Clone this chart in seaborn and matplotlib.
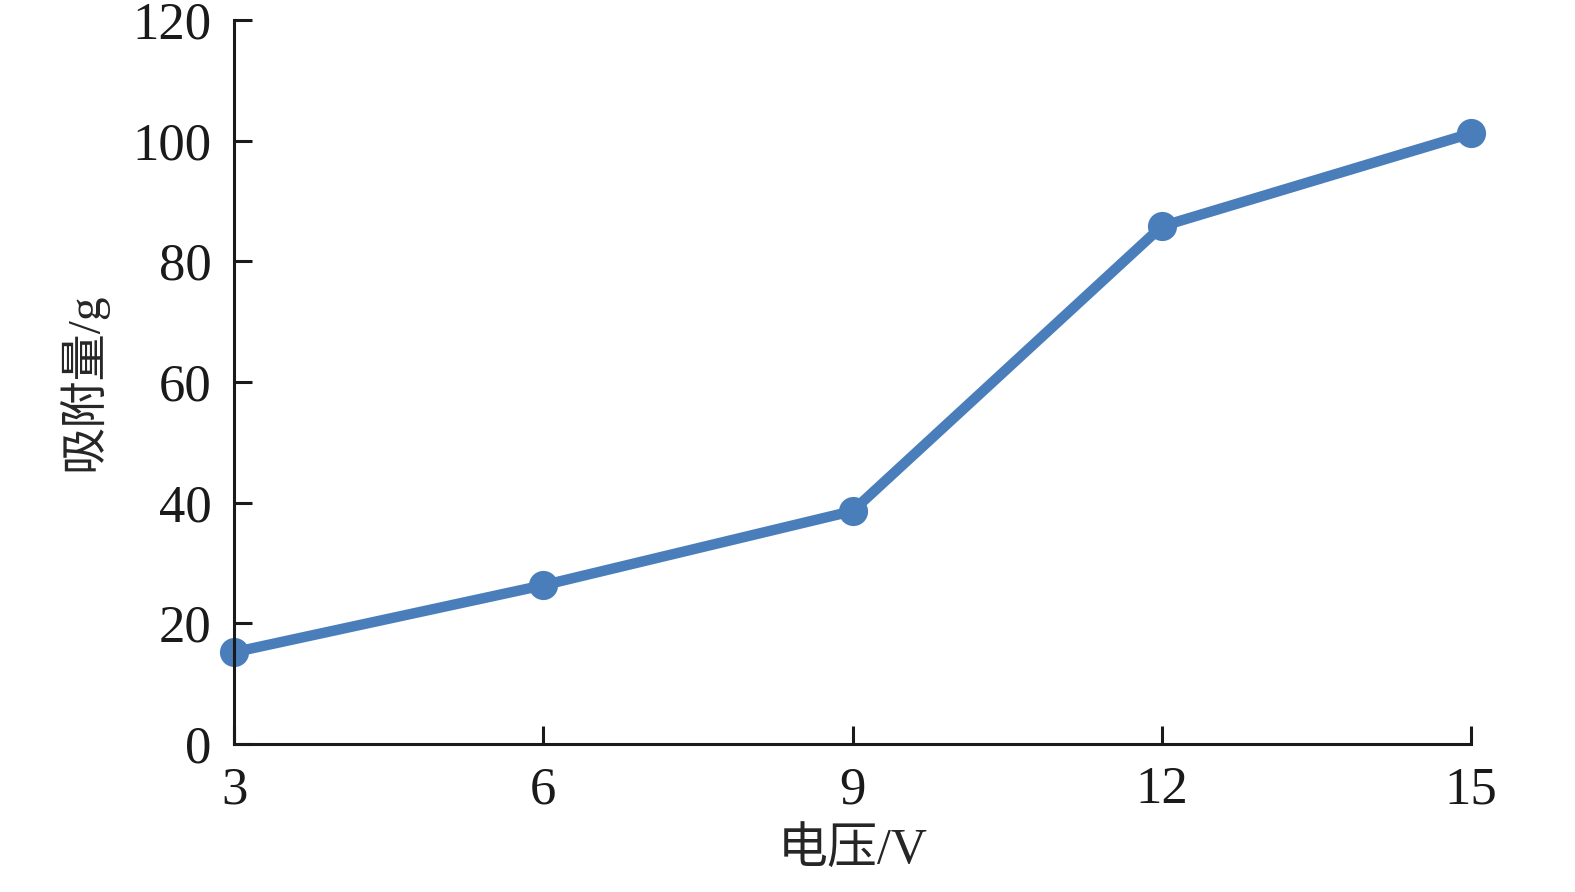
import matplotlib
matplotlib.use("Agg")
import matplotlib.pyplot as plt
import seaborn as sns
import pandas as pd

# data
voltage = [3, 6, 9, 12, 15]
adsorption = [15.2, 26.3, 38.6, 85.8, 101.2]
y_ticks = [0, 20, 40, 60, 80, 100, 120]

df = pd.DataFrame({"电压/V": voltage, "吸附量/g": adsorption})

sns.set_style("ticks")
plt.rcParams["font.family"] = ["Liberation Serif", "Noto Sans CJK SC", "DejaVu Sans"]

fig = plt.figure(figsize=(15.75, 8.92), dpi=100)
ax = fig.add_axes([0.1486, 0.166, 0.7854, 0.8116])

sns.lineplot(data=df, x="电压/V", y="吸附量/g", ax=ax, color="#4A7EBB",
             linewidth=7.5, marker="o", markersize=21, markeredgewidth=0)

ax.set_xlim(3, 15)
ax.set_ylim(0, 120)
ax.set_xticks(voltage)
ax.set_yticks(y_ticks)
sns.despine(ax=ax)
for side in ("left", "bottom"):
    ax.spines[side].set_linewidth(2.2)
    ax.spines[side].set_color("#1a1a1a")
ax.tick_params(direction="in", length=13, width=2.2, colors="#1a1a1a",
               labelsize=38, pad=16)
ax.set_xlabel("电压/V", fontsize=36, labelpad=10)
ax.set_ylabel("吸附量/g", fontsize=34, labelpad=18)
for line in ax.lines:
    line.set_clip_on(False)

fig.savefig("out.png", dpi=100)
